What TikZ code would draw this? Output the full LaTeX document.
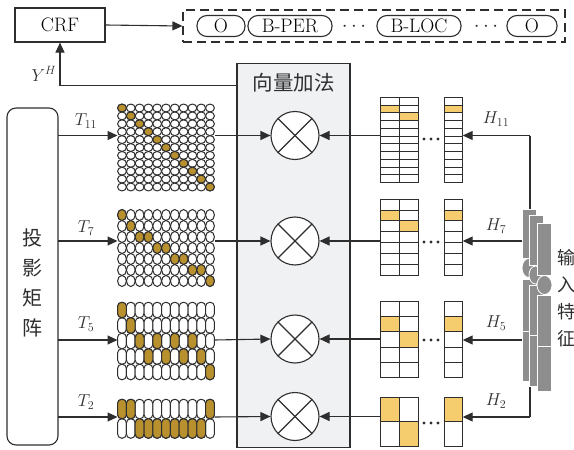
\documentclass[tikz,border=0pt]{standalone}
\usepackage{fontspec}
\newfontfamily\cjk{Noto Sans CJK SC}
\usetikzlibrary{arrows.meta}
\definecolor{ln}{HTML}{2E2E2E}
\definecolor{gold}{HTML}{B8902E}
\definecolor{cellY}{HTML}{F6CD6E}
\definecolor{boxg}{HTML}{F0F1F3}
\definecolor{stackg}{HTML}{8E8E8E}
\begin{document}
\begin{tikzpicture}[x=1pt,y=-1pt,
  arr/.style={draw=ln, line width=1.1pt, -{Triangle[length=10pt,width=9pt]}},
  plain/.style={draw=ln, line width=1.1pt},
  cell/.style={draw=ln, line width=1pt, fill=white},
  cellf/.style={draw=ln, line width=1pt, fill=gold},
  hcell/.style={draw=ln, line width=1pt},
  ghost/.style={inner sep=0pt, outer sep=0pt},
  capsule/.style={draw=ln, line width=1.1pt, rounded corners=10pt, minimum height=21pt, inner sep=0pt, font=\fontsize{19.5}{20}\selectfont},
  lab/.style={inner sep=0pt, font=\fontsize{18.5}{20}\selectfont, text=ln},
  zh/.style={inner sep=0pt, text=ln, font=\cjk\fontsize{20}{30}\selectfont},
  otimes/.style={circle, draw=ln, line width=1.1pt, fill=white, minimum size=48pt, inner sep=0pt}
]
\useasboundingbox (0,0) rectangle (574,450);

% ---------- top ----------
\node[draw=ln, line width=1.1pt, minimum width=90pt, minimum height=34pt, inner sep=0pt, font=\fontsize{19.5}{20}\selectfont] (crf) at (60,25) {CRF};
\node[draw=ln, line width=1.1pt, dash pattern=on 9pt off 5pt, minimum width=382pt, minimum height=32pt, inner sep=0pt] (tags) at (374,26) {};
\node[capsule, minimum width=48pt] (o1) at (221,26) {O};
\node[capsule, minimum width=84pt] (bper) at (290,26) {B-PER};
\node[lab, font=\fontsize{22}{20}\selectfont] (dt1) at (354,27) {$\cdots$};
\node[capsule, minimum width=84pt] (bloc) at (419,26) {B-LOC};
\node[lab, font=\fontsize{22}{20}\selectfont] (dt2) at (486,27) {$\cdots$};
\node[capsule, minimum width=50pt] (o2) at (532,26) {O};
\draw[arr] (crf.east) -- (tags.west);

% ---------- vector addition box ----------
\node[ghost, draw=ln, line width=1.1pt, fill=boxg, minimum width=113pt, minimum height=384pt, anchor=north west] (add) at (237,63.3) {};
\node[zh, font=\cjk\fontsize{20.5}{30}\selectfont] (addlab) at (293.5,83) {向量加法};
\coordinate (yrow) at (0,85.7);
\draw[arr] (add.west |- yrow) -| (crf.south);
\node[lab] (yh) at (44,74) {$Y^{H}$};

% ---------- row coordinates ----------
\coordinate (ra) at (0,135.5);
\coordinate (rb) at (0,241);
\coordinate (rc) at (0,340);
\coordinate (rd) at (0,417);

% ---------- otimes ----------
\foreach \n/\yy in {xa/135.5, xb/241, xc/339, xd/416.5} {
  \node[otimes] (\n) at (295,\yy) {};
  \draw[plain] (\n.north west) -- (\n.south east);
  \draw[plain] (\n.north east) -- (\n.south west);
}

% ---------- projection box ----------
\node[ghost, draw=ln, line width=1.1pt, rounded corners=9pt, minimum width=51pt, minimum height=337pt, anchor=north west] (proj) at (7,108) {};
\node[zh, align=center] (projlab) at (33,283) {投\\影\\矩\\阵};

% ---------- matrices ----------
\node[ghost, minimum width=97pt, minimum height=87pt] (ma) at (166,147.5) {};
\node[ghost, minimum width=97pt, minimum height=77pt] (mb) at (166,248) {};
\node[ghost, minimum width=97pt, minimum height=77.5pt] (mc) at (166,341) {};
\node[ghost, minimum width=97pt, minimum height=39pt] (md) at (166,418.75) {};

% T11
\foreach \r in {1,...,11} { \foreach \c in {1,...,11} {
  \draw[cell] (113.2+8.8*\c, 100.1+7.9*\r) ellipse [x radius=4.4pt, y radius=3.95pt];
}}
\foreach \c in {1,...,11} {
  \draw[cellf] (113.2+8.8*\c, 100.1+7.9*\c) ellipse [x radius=4.4pt, y radius=3.95pt];
}
% T7
\foreach \r in {1,...,7} { \foreach \c in {1,...,11} {
  \draw[cell] (113.2+8.8*\c, 204+11*\r) ellipse [x radius=4.4pt, y radius=5.5pt];
}}
\foreach \r/\c in {1/1,2/2,3/3,3/4,4/5,4/6,5/7,5/8,6/9,6/10,7/11} {
  \draw[cellf] (113.2+8.8*\c, 204+11*\r) ellipse [x radius=4.4pt, y radius=5.5pt];
}
% T5
\foreach \r in {1,...,5} { \foreach \c in {1,...,11} {
  \draw[cell, rounded corners=4.2pt] (108.8+8.8*\c, 286.75+15.5*\r) rectangle (117.6+8.8*\c, 302.25+15.5*\r);
}}
\foreach \r/\c in {1/1,2/2,3/3,3/5,3/7,3/9,4/4,4/6,4/8,4/10,5/11} {
  \draw[cellf, rounded corners=4.2pt] (108.8+8.8*\c, 286.75+15.5*\r) rectangle (117.6+8.8*\c, 302.25+15.5*\r);
}
% T2
\foreach \r in {1,2} { \foreach \c in {1,...,11} {
  \draw[cell, rounded corners=4.2pt] (108.8+8.8*\c, 379.75+19.5*\r) rectangle (117.6+8.8*\c, 399.25+19.5*\r);
}}
\foreach \r/\c in {1/1,1/2,1/11,2/3,2/4,2/5,2/6,2/7,2/8,2/9,2/10} {
  \draw[cellf, rounded corners=4.2pt] (108.8+8.8*\c, 379.75+19.5*\r) rectangle (117.6+8.8*\c, 399.25+19.5*\r);
}

% ---------- H vectors ----------
\node[ghost, minimum width=37.6pt, minimum height=85.4pt, anchor=north west] (ha) at (380.7,97.3) {};
\node[ghost, minimum width=18.7pt, minimum height=85.4pt, anchor=north west] (hac) at (444,97.3) {};
\node[ghost, minimum width=37.6pt, minimum height=75.7pt, anchor=north west] (hb) at (380.7,199.3) {};
\node[ghost, minimum width=18.7pt, minimum height=75.7pt, anchor=north west] (hbc) at (444,199.3) {};
\node[ghost, minimum width=37.6pt, minimum height=75.6pt, anchor=north west] (hc) at (380.7,301.7) {};
\node[ghost, minimum width=18.7pt, minimum height=75.6pt, anchor=north west] (hcc) at (444,301.7) {};
\node[ghost, minimum width=37.6pt, minimum height=48.7pt, anchor=north west] (hd) at (380.7,397.3) {};
\node[ghost, minimum width=18.7pt, minimum height=48.7pt, anchor=north west] (hdc) at (444,397.3) {};

\foreach \top/\h/\n/\fa/\fb/\fc in {97.3/7.764/11/2/3/2, 199.3/10.814/7/2/3/2, 301.7/15.12/5/2/3/2, 397.3/24.35/2/1/2/1} {
  \fill[cellY] (380.7, \top+\h*\fa-\h) rectangle (399.3, \top+\h*\fa);
  \fill[cellY] (399.3, \top+\h*\fb-\h) rectangle (418.3, \top+\h*\fb);
  \fill[cellY] (444, \top+\h*\fc-\h) rectangle (462.7, \top+\h*\fc);
  \foreach \i in {1,...,\n} {
    \draw[hcell] (380.7, \top+\h*\i-\h) rectangle (399.3, \top+\h*\i);
    \draw[hcell] (399.3, \top+\h*\i-\h) rectangle (418.3, \top+\h*\i);
    \draw[hcell] (444, \top+\h*\i-\h) rectangle (462.7, \top+\h*\i);
  }
}
\foreach \yy in {139, 242, 340, 423} {
  \fill[ln] (424,\yy) circle (1.6pt);
  \fill[ln] (431,\yy) circle (1.6pt);
  \fill[ln] (438,\yy) circle (1.6pt);
}

% ---------- connectors ----------
\draw[arr] (proj.east |- ra) -- (ma.west |- ra);
\draw[arr] (proj.east |- rb) -- (mb.west |- rb);
\draw[arr] (proj.east |- rc) -- (mc.west |- rc);
\draw[arr] (proj.east |- rd) -- (md.west |- rd);
\draw[arr] (ma.east |- ra) -- (xa.west);
\draw[arr] (mb.east |- rb) -- (xb.west);
\draw[arr] (mc.east |- rc) -- (xc.west);
\draw[arr] (md.east |- rd) -- (xd.west);
\draw[arr] (ha.west |- xa) -- (xa.east);
\draw[arr] (hb.west |- xb) -- (xb.east);
\draw[arr] (hc.west |- xc) -- (xc.east);
\draw[arr] (hd.west |- xd) -- (xd.east);

\coordinate (vtop) at (530,135.5);
\coordinate (vbot) at (530,417);
\draw[plain] (vtop) -- (vbot);
\draw[arr] (vtop) -- (hac.east |- vtop);
\draw[arr] (vtop |- rb) -- (hbc.east |- rb);
\draw[arr] (vtop |- rc) -- (hcc.east |- rc);
\draw[arr] (vbot) -- (hdc.east |- vbot);

% labels
\node[lab] (ta) at (86,121) {$T_{11}$};
\node[lab] (tb) at (86,228) {$T_{7}$};
\node[lab] (tc) at (86,324) {$T_{5}$};
\node[lab] (td) at (86,402) {$T_{2}$};
\node[lab] (la) at (496,119) {$H_{11}$};
\node[lab] (lb) at (496,226) {$H_{7}$};
\node[lab] (lc) at (496,323) {$H_{5}$};
\node[lab] (ld) at (496,401) {$H_{2}$};

% ---------- input feature stack ----------
\begin{scope}[stk/.style={fill=stackg, draw=white, line width=0.8pt}]
  \draw[stk] (522.7,209.3) rectangle (536.7,258.3);
  \draw[stk] (522.7,279.3) rectangle (536.7,331);
  \draw[stk] (522.7,331) rectangle (536.7,381.7);
  \draw[stk] (528.5,268) ellipse [x radius=6.5pt, y radius=9.5pt];
  \draw[stk] (529.3,215) rectangle (543.3,265);
  \draw[stk] (529.3,285) rectangle (543.3,335);
  \draw[stk] (529.3,335) rectangle (543.3,386.7);
  \draw[stk] (535.5,275) ellipse [x radius=6.5pt, y radius=9pt];
  \draw[stk] (537.3,223.3) rectangle (551.7,275);
  \draw[stk] (537.3,295.5) rectangle (551.7,346.7);
  \draw[stk] (537.3,346.7) rectangle (551.7,391.7);
  \draw[stk] (544.5,285) ellipse [x radius=7.5pt, y radius=9.5pt];
\end{scope}
\node[zh, align=center, font=\cjk\fontsize{18}{27}\selectfont] (inlab) at (566,298) {输\\入\\特\\征};
\end{tikzpicture}
\end{document}
